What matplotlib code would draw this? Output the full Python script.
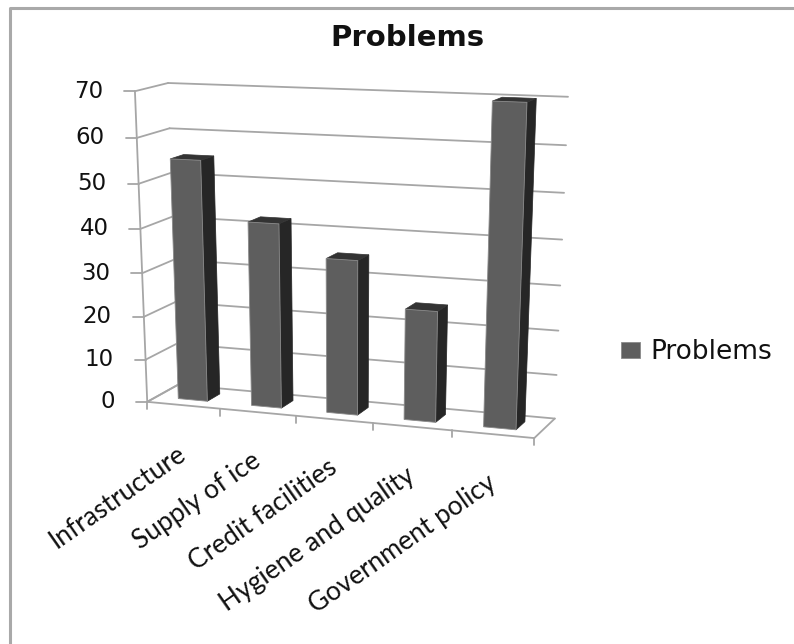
import matplotlib
matplotlib.use('Agg')
import matplotlib.pyplot as plt
import numpy as np

categories = ['Infrastructure', 'Supply of ice', 'Credit facilities', 'Hygiene and quality', 'Government policy']
values = [55, 42, 35, 25, 70]
y_ticks = [0, 10, 20, 30, 40, 50, 60, 70]
y_max = 70
series_name = 'Problems'

# camera calibration: (category pos, depth, value) -> picture pixel
world_pts = [(0, 0, 0), (5, 0, 0), (0, 1, 0), (5, 1, 0), (0, 1, 70), (5, 1, 70), (0, 0, 70),
             (1, 0, 0), (2, 0, 0), (3, 0, 0), (4, 0, 0)]
pixel_pts = [(148, 402), (534, 438), (178, 385), (555, 418), (168, 83), (568, 97), (135, 91),
             (220, 408), (295, 416), (373, 423), (453, 431)]


def solve_camera(world, pixel):
    rows = []
    for (a, b, c), (px, py) in zip(world, pixel):
        X = [a / 5, b, c / y_max, 1]
        px, py = px / 800, py / 800
        rows.append(X + [0, 0, 0, 0] + [-px * t for t in X])
        rows.append([0, 0, 0, 0] + X + [-py * t for t in X])
    return np.linalg.svd(np.array(rows))[2][-1].reshape(3, 4)


cam = solve_camera(world_pts, pixel_pts)


def project(a, b, c):
    p = cam @ np.array([a / 5, b, c / y_max, 1])
    return p[0] / p[2] * 800, p[1] / p[2] * 800


fig = plt.figure(figsize=(7.94, 6.44), dpi=100)
ax = fig.add_axes([0, 0, 1, 1])
ax.set_xlim(0, 794)
ax.set_ylim(644, 0)
ax.axis('off')

# outer frame of the chart
ax.plot([10, 10, 794], [644, 8, 8], color='#a9a9a9', lw=2.2, zorder=1)

grid_c = '#a6a6a6'


def seg(p, q, **kw):
    ax.plot([p[0], q[0]], [p[1], q[1]], color=grid_c, lw=1.3, solid_capstyle='round', **kw)


for t in y_ticks:
    seg(project(0, 0, t), project(0, 1, t))
    seg(project(0, 1, t), project(5, 1, t))
    fx, fy = project(0, 0, t)
    seg((fx - 11, fy), (fx, fy))
    ax.text(fx - 32, fy, str(t), ha='right', va='center', fontsize=16.5, color='#111111')

seg(project(0, 0, 0), project(0, 0, y_max))
seg(project(0, 0, 0), project(5, 0, 0))
seg(project(5, 0, 0), project(5, 1, 0))
seg(project(0, 0, 0), project(0, 1, 0))

for k in range(6):
    tx, ty = project(k, 0, 0)
    seg((tx, ty), (tx, ty + 7))

bar_w = 0.40
d0, d1 = 0.3, 0.72
for k, val in enumerate(values):
    u0, u1 = k + 0.5 - bar_w / 2, k + 0.5 + bar_w / 2
    front = [project(u0, d0, 0), project(u1, d0, 0), project(u1, d0, val), project(u0, d0, val)]
    side = [project(u1, d0, 0), project(u1, d1, 0), project(u1, d1, val), project(u1, d0, val)]
    top = [project(u0, d0, val), project(u1, d0, val), project(u1, d1, val), project(u0, d1, val)]
    ax.fill(*zip(*side), color='#262626', lw=0.5, zorder=3)
    ax.fill(*zip(*top), color='#333333', lw=0.5, zorder=3)
    ax.fill(*zip(*front), color='#5e5e5e', ec='#8a8a8a', lw=0.6, zorder=4,
            label=series_name if k == 0 else None)
    cx, cy = project(k + 0.5, 0, 0)
    ax.text(cx, cy + 46, categories[k], rotation=35, rotation_mode='anchor',
            ha='right', va='center', family='Lato', fontsize=19, color='#111111')

ax.text(407, 38, series_name, ha='center', va='center', fontsize=21, fontweight='bold', color='#111111')

leg = ax.legend(loc='center left', bbox_to_anchor=(621 / 794, 1 - 352 / 644), frameon=False,
                fontsize=19, handlelength=0.72, handleheight=0.54, handletextpad=0.38,
                labelcolor='#111111', borderpad=0, borderaxespad=0)

fig.savefig('out.png', dpi=100, facecolor='white')
